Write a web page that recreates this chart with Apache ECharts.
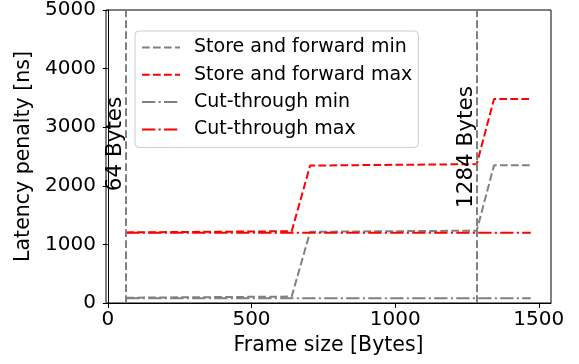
<!DOCTYPE html>
<html>
<head>
<meta charset="utf-8">
<script src="https://cdn.jsdelivr.net/npm/echarts@6/dist/echarts.min.js"></script>
<style>
  html, body { margin: 0; padding: 0; background: #fff; }
  #chart { width: 579px; height: 364px; }
</style>
</head>
<body>
<div id="chart"></div>
<script>
// Frame sizes (bytes) where the store-and-forward curves change
const sfFrameSize = [64, 640, 704, 1284, 1344, 1472];
const sfMinLatency = [90, 110, 1215, 1235, 2350, 2350];
const sfMaxLatency = [1205, 1225, 2345, 2370, 3480, 3480];

// Cut-through latency is independent of frame size
const ctFrameSize = [64, 1472];
const ctMinLatency = [80, 80];
const ctMaxLatency = [1200, 1200];

// Reference frame sizes marked with vertical lines
const markerSize = [64, 1284];
const markerLabel = ['64 Bytes', '1284 Bytes'];
const markerLabelY = [2720, 2655];

const xTicks = [0, 500, 1000, 1500];
const seriesNames = ['Store and forward min', 'Store and forward max', 'Cut-through min', 'Cut-through max'];
const seriesColors = ['#808080', '#ff0000', '#808080', '#ff0000'];

const FONT = 'DejaVu Sans';
const DASH = [7.7, 3.3];
const DASHDOT = [13.3, 3.3, 2.1, 3.3];
const seriesDash = [DASH, DASH, DASHDOT, DASHDOT];

const zip = (xs, ys) => xs.map((x, i) => [x, ys[i]]);

function lineSeries(i, xs, ys) {
  return {
    name: seriesNames[i],
    type: 'line',
    data: zip(xs, ys),
    symbol: 'none',
    showSymbol: false,
    silent: true,
    lineStyle: { color: seriesColors[i], width: 2, type: seriesDash[i] },
    itemStyle: { color: seriesColors[i] },
    z: 3
  };
}

const chart = echarts.init(document.getElementById('chart'), null, { renderer: 'canvas' });

chart.setOption({
  animation: false,
  backgroundColor: '#ffffff',
  textStyle: { fontFamily: FONT, color: '#000' },
  grid: {
    left: 106, right: 28, top: 10, bottom: 61,
    show: true, borderColor: '#000', borderWidth: 1, backgroundColor: 'transparent'
  },
  xAxis: {
    type: 'value',
    min: -6.4,
    max: 1542.4,
    name: 'Frame size [Bytes]',
    nameLocation: 'middle',
    nameGap: 24,
    nameTextStyle: { fontFamily: FONT, fontSize: 20.5, color: '#000' },
    axisLine: { show: true, lineStyle: { color: '#000', width: 1 } },
    axisTick: { show: true, inside: false, length: 5, customValues: xTicks, lineStyle: { color: '#000' } },
    axisLabel: { show: true, customValues: xTicks, margin: 7, fontFamily: FONT, fontSize: 20, color: '#000', formatter: v => String(v) },
    splitLine: { show: false }
  },
  yAxis: {
    type: 'value',
    min: 0,
    max: 5000,
    interval: 1000,
    name: 'Latency penalty [ns]',
    nameLocation: 'middle',
    nameGap: 52,
    nameTextStyle: { fontFamily: FONT, fontSize: 20.5, color: '#000' },
    axisLine: { show: true, lineStyle: { color: '#000', width: 1 } },
    axisTick: { show: true, inside: false, length: 5, lineStyle: { color: '#000' } },
    axisLabel: { show: true, margin: 10, fontFamily: FONT, fontSize: 20, color: '#000', formatter: v => String(v) },
    splitLine: { show: false }
  },
  legend: {
    data: seriesNames.map((n, i) => ({
      name: n,
      lineStyle: { color: seriesColors[i], width: 2, type: seriesDash[i] }
    })),
    itemStyle: { color: 'rgba(0,0,0,0)', borderColor: 'rgba(0,0,0,0)', borderWidth: 0 },
    orient: 'vertical',
    left: 135,
    top: 31,
    padding: [6.5, 6, 8, 6],
    itemWidth: 38,
    itemHeight: 14,
    itemGap: 7.3,
    backgroundColor: 'rgba(255,255,255,0.8)',
    borderColor: '#cccccc',
    borderWidth: 1,
    borderRadius: 4,
    textStyle: { fontFamily: FONT, fontSize: 19, color: '#000', lineHeight: 20, padding: [0, 0, 0, 9] }
  },
  series: [
    lineSeries(0, sfFrameSize, sfMinLatency),
    lineSeries(1, sfFrameSize, sfMaxLatency),
    lineSeries(2, ctFrameSize, ctMinLatency),
    lineSeries(3, ctFrameSize, ctMaxLatency),
    {
      name: 'markers',
      type: 'line',
      data: [],
      silent: true,
      markLine: {
        silent: true,
        symbol: 'none',
        label: { show: false },
        lineStyle: { color: '#808080', width: 2, type: DASH },
        data: markerSize.map(x => ({ xAxis: x }))
      },
      z: 2
    }
  ]
});

// Rotated annotations beside the marker lines, positioned through the axis scales
// and snapped to whole pixels so the vertical text stays crisp.
chart.setOption({
  graphic: markerSize.map((x, i) => {
    const p = chart.convertToPixel({ gridIndex: 0 }, [x, markerLabelY[i]]);
    return {
      type: 'text',
      x: Math.round(p[0]),
      y: Math.round(p[1]),
      rotation: Math.PI / 2,
      silent: true,
      z: 10,
      style: {
        text: markerLabel[i],
        fontFamily: FONT,
        fontSize: 21.5,
        fill: '#000',
        align: 'center',
        verticalAlign: 'bottom'
      }
    };
  })
});
</script>
</body>
</html>
